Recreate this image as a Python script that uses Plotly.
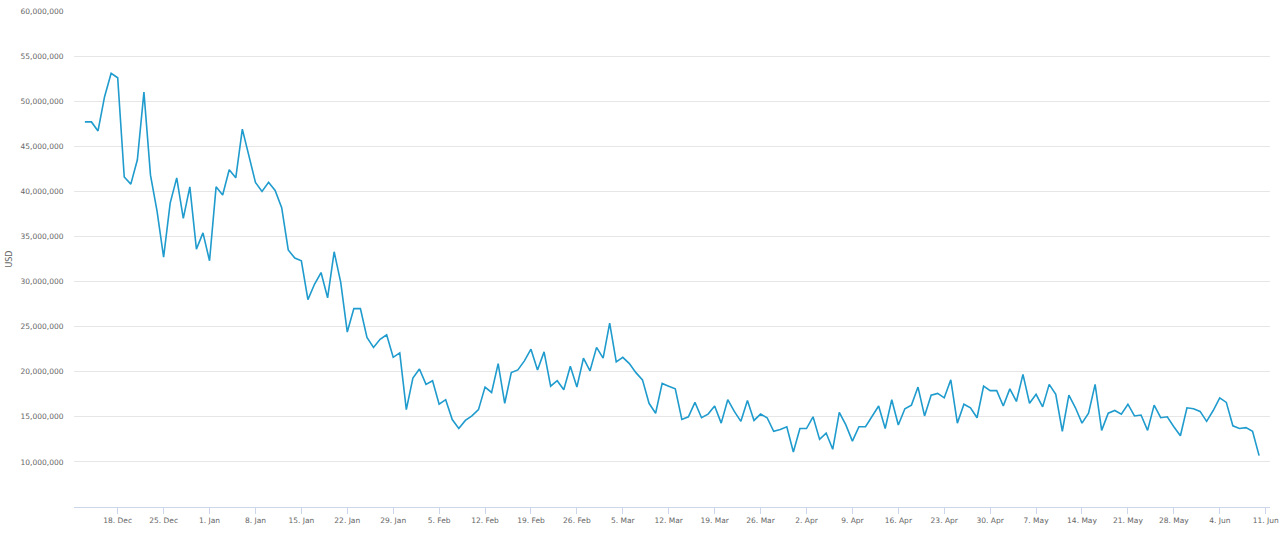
import pandas as pd
import plotly.graph_objects as go

# Daily values (millions USD), 13 Dec 2017 .. 10 Jun 2018
start_date = "2017-12-13"
values_dec = [47.7, 47.7, 46.7, 50.5, 53.1, 52.6, 41.6, 40.8, 43.5, 51.0,
              41.8, 37.8, 32.7, 38.7, 41.5, 37.0, 40.5, 33.6, 35.4]
values_jan = [32.3, 40.5, 39.6, 42.4, 41.5, 46.9, 44.0, 41.0, 40.0, 41.0,
              40.1, 38.2, 33.5, 32.6, 32.3, 28.0, 29.7, 31.0, 28.2, 33.3,
              29.9, 24.4, 27.0, 27.0, 23.8, 22.7, 23.6, 24.1, 21.6, 22.1, 15.8]
values_feb = [19.3, 20.3, 18.6, 19.0, 16.4, 16.9, 14.7, 13.7, 14.6, 15.1,
              15.8, 18.3, 17.7, 20.9, 16.5, 19.9, 20.2, 21.2, 22.5, 20.2,
              22.2, 18.4, 19.0, 18.0, 20.6, 18.3, 21.5, 20.1]
values_mar = [22.7, 21.5, 25.4, 21.1, 21.6, 20.9, 19.9, 19.1, 16.5, 15.4,
              18.7, 18.4, 18.1, 14.7, 15.0, 16.6, 14.9, 15.3, 16.2, 14.3,
              16.9, 15.6, 14.5, 16.8, 14.6, 15.3, 14.9, 13.4, 13.6, 13.9, 11.1]
values_apr = [13.7, 13.7, 15.0, 12.5, 13.2, 11.4, 15.5, 14.1, 12.3, 13.9,
              13.9, 15.0, 16.2, 13.7, 16.9, 14.1, 15.9, 16.3, 18.3, 15.1,
              17.4, 17.6, 17.1, 19.1, 14.3, 16.4, 16.0, 14.9, 18.4, 17.9]
values_may = [17.9, 16.2, 18.1, 16.7, 19.7, 16.5, 17.5, 16.1, 18.6, 17.5,
              13.4, 17.4, 16.0, 14.3, 15.4, 18.6, 13.5, 15.4, 15.7, 15.3,
              16.4, 15.1, 15.2, 13.5, 16.3, 14.9, 15.0, 13.9, 12.9, 16.0, 15.9]
values_jun = [15.6, 14.5, 15.7, 17.1, 16.6, 14.0, 13.7, 13.8, 13.4, 10.7]

tick_dates = ["2017-12-18", "2017-12-25", "2018-01-01", "2018-01-08", "2018-01-15",
              "2018-01-22", "2018-01-29", "2018-02-05", "2018-02-12", "2018-02-19",
              "2018-02-26", "2018-03-05", "2018-03-12", "2018-03-19", "2018-03-26",
              "2018-04-02", "2018-04-09", "2018-04-16", "2018-04-23", "2018-04-30",
              "2018-05-07", "2018-05-14", "2018-05-21", "2018-05-28", "2018-06-04",
              "2018-06-11"]
tick_labels = ["18. Dec", "25. Dec", "1. Jan", "8. Jan", "15. Jan", "22. Jan", "29. Jan",
               "5. Feb", "12. Feb", "19. Feb", "26. Feb", "5. Mar", "12. Mar", "19. Mar",
               "26. Mar", "2. Apr", "9. Apr", "16. Apr", "23. Apr", "30. Apr", "7. May",
               "14. May", "21. May", "28. May", "4. Jun", "11. Jun"]
y_ticks = [10e6, 15e6, 20e6, 25e6, 30e6, 35e6, 40e6, 45e6, 50e6, 55e6, 60e6]

values = values_dec + values_jan + values_feb + values_mar + values_apr + values_may + values_jun
dates = pd.date_range(start_date, periods=len(values), freq="D")
usd = [v * 1e6 for v in values]

fig = go.Figure()
fig.add_trace(go.Scatter(
    x=dates, y=usd, mode="lines",
    line=dict(color="#1f9bcd", width=1.6),
    hoverinfo="x+y", showlegend=False,
))

font_family = "DejaVu Sans, Verdana, sans-serif"
fig.update_layout(
    width=1280, height=534,
    margin=dict(l=74, r=10, t=11, b=27, autoexpand=False),
    paper_bgcolor="white", plot_bgcolor="white",
    font=dict(family=font_family, size=8, color="#666666"),
    xaxis=dict(
        type="date",
        range=["2017-12-11 08:10", "2018-06-11 15:50"],
        tickvals=tick_dates, ticktext=tick_labels,
        ticks="outside", ticklen=6, tickcolor="#ccd6eb", tickwidth=1,
        showline=True, linecolor="#ccd6eb", linewidth=1,
        showgrid=False, zeroline=False,
        tickfont=dict(family=font_family, size=7.5, color="#666666"),
    ),
    yaxis=dict(
        range=[5e6, 60e6],
        tickvals=y_ticks, tickformat=",",
        showgrid=True, gridcolor="#e6e6e6", gridwidth=1,
        zeroline=False, showline=False,
        ticks="outside", ticklen=8, tickcolor="rgba(0,0,0,0)",
        tickfont=dict(family=font_family, size=7.5, color="#666666"),
        title=dict(text="USD", font=dict(family=font_family, size=8, color="#666666"), standoff=6),
    ),
)

fig.write_html(
    "out.html",
    config={"displayModeBar": False},
    post_script="document.body.style.margin='0';document.body.style.overflow='hidden';",
)
